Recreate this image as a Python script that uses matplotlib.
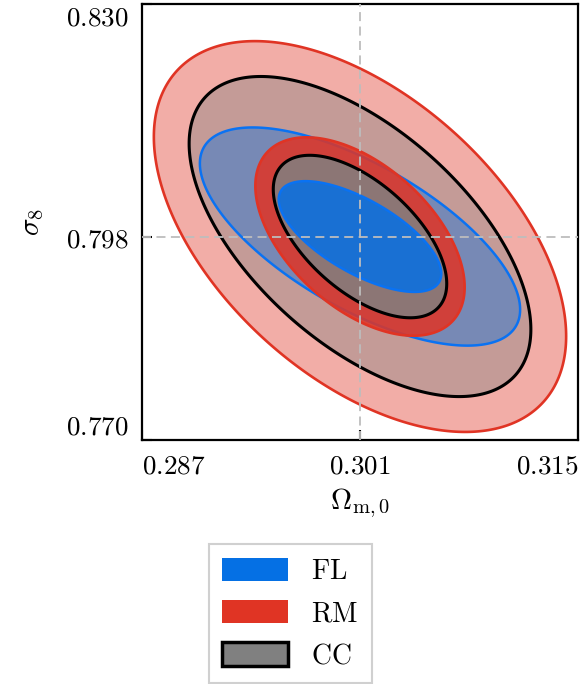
import numpy as np
import matplotlib
matplotlib.use("Agg")
import matplotlib.pyplot as plt
from matplotlib.patches import Patch

plt.rcParams['mathtext.fontset'] = 'cm'
plt.rcParams['font.family'] = ['DejaVu Serif']

# ---- data ----
probes = ['FL', 'RM', 'CC']
fid_om = 0.301
fid_s8 = 0.798
# 1-sigma half extents and correlation of each probe's forecast
sig_om = [0.00522, 0.00672, 0.00557]
sig_s8 = [0.00762, 0.01365, 0.01118]
rho = [-0.67, -0.51, -0.58]
levels = [1.0, 1.97]
xticks = [0.287, 0.301, 0.315]
yticks = [0.770, 0.798, 0.830]

face_cols = {'FL': '#0570E4', 'RM': '#E03424', 'CC': '#808080'}
edge_cols = {'FL': '#0A72F2', 'RM': '#E03424', 'CC': '#000000'}
edge_lw = {'FL': 1.8, 'RM': 1.9, 'CC': 2.2}
draw_order = ['RM', 'CC', 'FL']

fig = plt.figure(figsize=(5.83, 6.84), dpi=100)
ax = fig.add_axes([142/583, 1-440/684, 436/583, 436/684])

t = np.linspace(0, 2*np.pi, 400)
circ = np.vstack([np.cos(t), np.sin(t)])
z = 2
for lev, alpha in [(levels[1], 0.4), (levels[0], 0.85)]:
    for p in draw_order:
        i = probes.index(p)
        sx, sy, r = sig_om[i], sig_s8[i], rho[i]
        C = np.array([[sx**2, r*sx*sy], [r*sx*sy, sy**2]])
        L = np.linalg.cholesky(C)
        pts = lev * (L @ circ)
        ax.fill(fid_om + pts[0], fid_s8 + pts[1],
                facecolor=matplotlib.colors.to_rgba(face_cols[p], alpha),
                edgecolor=edge_cols[p], lw=edge_lw[p], zorder=z)
        z += 1

ax.axvline(fid_om, color='#BDBDBD', lw=1.3, ls=(0, (5, 3)), zorder=20)
ax.axhline(fid_s8, color='#BDBDBD', lw=1.3, ls=(0, (5, 3)), zorder=20)

ax.set_xlim(xticks[0], xticks[-1])
ax.set_ylim(yticks[0], yticks[-1])
ax.set_xticks(xticks)
ax.set_yticks(yticks)
ax.set_xticklabels([r'$%.3f$' % v for v in xticks], fontsize=19.5)
ax.set_yticklabels([r'$%.3f$' % v for v in yticks], fontsize=19.5)
xl = ax.get_xticklabels()
xl[0].set_ha('left'); xl[-1].set_ha('right')
yl = ax.get_yticklabels()
yl[0].set_va('bottom'); yl[-1].set_va('top')
ax.tick_params(direction='in', length=7, width=1.5, pad=9)
ax.tick_params(axis='y', pad=10)
for s in ax.spines.values():
    s.set_linewidth(1.6)

ax.set_xlabel(r'$\Omega_{\mathrm{m},0}$', fontsize=21, labelpad=5)
ax.set_ylabel(r'$\sigma_8$', fontsize=21, labelpad=14)

handles = [Patch(facecolor=face_cols['FL'], edgecolor='none'),
           Patch(facecolor=face_cols['RM'], edgecolor='none'),
           Patch(facecolor=face_cols['CC'], edgecolor='black', lw=2.5)]
leg = fig.legend(handles, [r'$\mathrm{%s}$' % p for p in probes],
                 loc='upper center', bbox_to_anchor=(0.498, 0.205),
                 borderaxespad=0,
                 fontsize=20, fancybox=False, edgecolor='#D0D0D0',
                 handlelength=2.35, handleheight=0.9, handletextpad=0.85,
                 labelspacing=0.55, borderpad=0.5, framealpha=1)
leg.get_frame().set_linewidth(1.5)

fig.savefig('out.png', dpi=100)
